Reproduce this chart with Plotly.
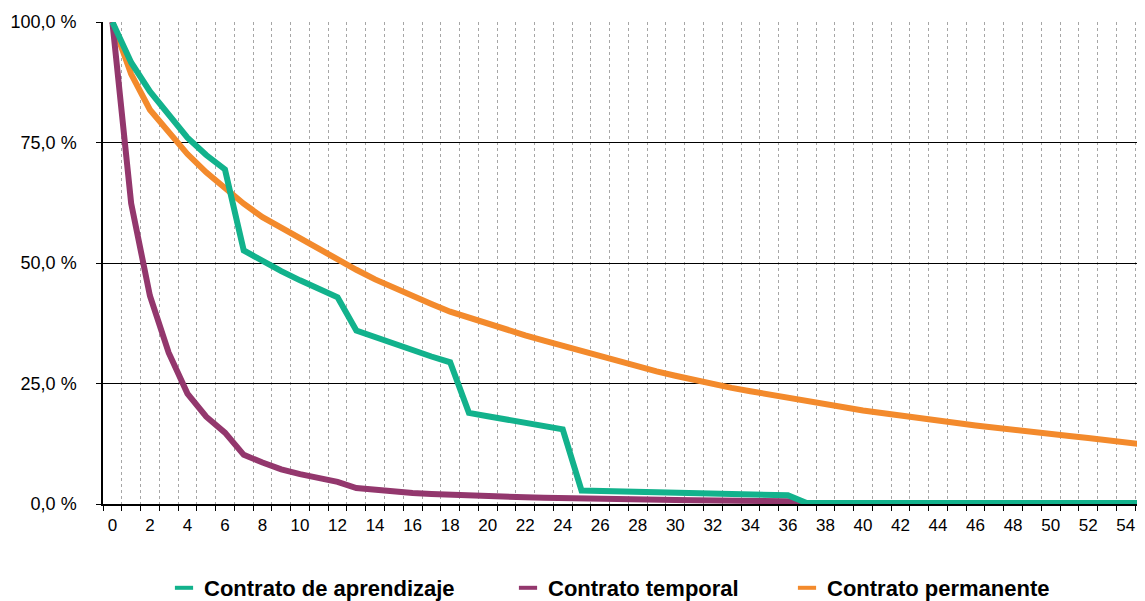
import plotly.graph_objects as go

months = list(range(0, 56))

aprendizaje = [100, 91.6, 85.6, 80.6, 76.0, 72.4, 69.4, 52.6, 50.4, 48.3,
               46.4, 44.6, 42.9, 36.0, 34.6, 33.2, 31.9, 30.6, 29.4, 18.9,
               18.2, 17.5, 16.8, 16.2, 15.5, 2.8, 2.7, 2.6, 2.5, 2.4,
               2.3, 2.2, 2.1, 2.0, 1.9, 1.85, 1.8, 0.2, 0.2, 0.2,
               0.2, 0.2, 0.2, 0.2, 0.2, 0.2, 0.2, 0.2, 0.2, 0.2,
               0.2, 0.2, 0.2, 0.2, 0.2, 0.2]

temporal = [100, 62.4, 43.2, 31.4, 22.9, 18.1, 14.8, 10.2, 8.6, 7.2,
            6.2, 5.3, 4.6, 3.3, 2.9, 2.6, 2.3, 2.1, 1.9, 1.75,
            1.6, 1.5, 1.4, 1.3, 1.2, 1.1, 1.05, 1.0, 0.95, 0.9,
            0.85, 0.8, 0.75, 0.7, 0.65, 0.6, 0.55, 0.1, 0.1, 0.1,
            0.1, 0.1, 0.1, 0.1, 0.1, 0.1, 0.1, 0.1, 0.1, 0.1,
            0.1, 0.1, 0.1, 0.1, 0.1, 0.1]

permanente = [100, 89.2, 81.8, 77.0, 72.6, 68.8, 65.4, 62.3, 59.5, 57.3,
              55.2, 52.8, 50.5, 48.6, 46.6, 44.8, 43.1, 41.5, 39.9, 38.6,
              37.3, 36.1, 35.0, 33.9, 32.8, 31.7, 30.6, 29.6, 28.5, 27.5,
              26.6, 25.7, 24.9, 24.1, 23.4, 22.7, 22.0, 21.3, 20.7, 20.0,
              19.4, 18.9, 18.3, 17.8, 17.3, 16.8, 16.3, 15.8, 15.4, 14.9,
              14.5, 14.1, 13.7, 13.2, 12.8, 12.3]

series_names = ["Contrato de aprendizaje", "Contrato temporal", "Contrato permanente"]
colors = ["#12B28C", "#93376D", "#F38A2C"]

x_tick_vals = list(range(0, 55, 2))
y_tick_vals = [0, 25, 50, 75, 100]
y_tick_text = ["0,0 %", "25,0 %", "50,0 %", "75,0 %", "100,0 %"]

FONT = "Arial, Liberation Sans, sans-serif"

fig = go.Figure()

# draw order: permanente, temporal, aprendizaje (on top)
for vals, idx in [(permanente, 2), (temporal, 1), (aprendizaje, 0)]:
    fig.add_trace(go.Scatter(x=months, y=vals, mode="lines",
                             line=dict(color=colors[idx], width=6),
                             showlegend=False, hoverinfo="skip"))

legend_ids = ["legend", "legend2", "legend3"]
for i, name in enumerate(series_names):
    fig.add_trace(go.Scatter(x=[None], y=[None], mode="markers", name=name,
                             marker=dict(symbol="line-ew", size=13,
                                         line=dict(width=4, color=colors[i])),
                             legend=legend_ids[i]))

# page has an 8px body offset; plot area spans page x 103..1153, y 22..507
PLOT_L, PLOT_W = 103, 1050
PLOT_T, PLOT_H = 22, 485


def px(p):
    return (p - PLOT_L) / PLOT_W


def py(p):
    return (PLOT_T + PLOT_H - p) / PLOT_H


leg_common = dict(orientation="h", yanchor="middle", y=py(592), xanchor="left",
                  font=dict(family=FONT, size=22, color="black", weight="bold"),
                  bgcolor="rgba(0,0,0,0)", itemwidth=30)

fig.update_layout(
    legend=dict(x=px(164), **leg_common),
    legend2=dict(x=px(508), **leg_common),
    legend3=dict(x=px(787), **leg_common),
)

fig.update_layout(
    width=1145, height=601,
    margin=dict(l=PLOT_L - 8, r=0, t=PLOT_T - 8, b=601 - (PLOT_T - 8) - PLOT_H),
    paper_bgcolor="white", plot_bgcolor="white",
    font=dict(family=FONT, color="black"),
    xaxis=dict(range=[-0.5, -0.5 + PLOT_W / 18.765], tickmode="array", tickvals=x_tick_vals,
               ticks="", showgrid=False, zeroline=False,
               showline=True, linecolor="black", linewidth=1.5,
               ticklabelstandoff=5,
               tickfont=dict(size=17, color="black", family=FONT)),
    yaxis=dict(range=[0, 100], tickmode="array", tickvals=y_tick_vals, ticktext=y_tick_text,
               ticks="outside", ticklen=5, tickcolor="black",
               showgrid=True, gridcolor="black", gridwidth=1, zeroline=False,
               showline=True, linecolor="black", linewidth=1.5,
               ticklabelstandoff=16,
               tickfont=dict(size=18, color="black", family=FONT)),
)
fig.update_xaxes(minor=dict(tickmode="linear", tick0=0.5, dtick=1,
                            ticks="outside", ticklen=5, tickwidth=1, tickcolor="black",
                            showgrid=True, gridcolor="#A6A6A6", griddash="dot", gridwidth=1))

fig.write_html("out.html")
